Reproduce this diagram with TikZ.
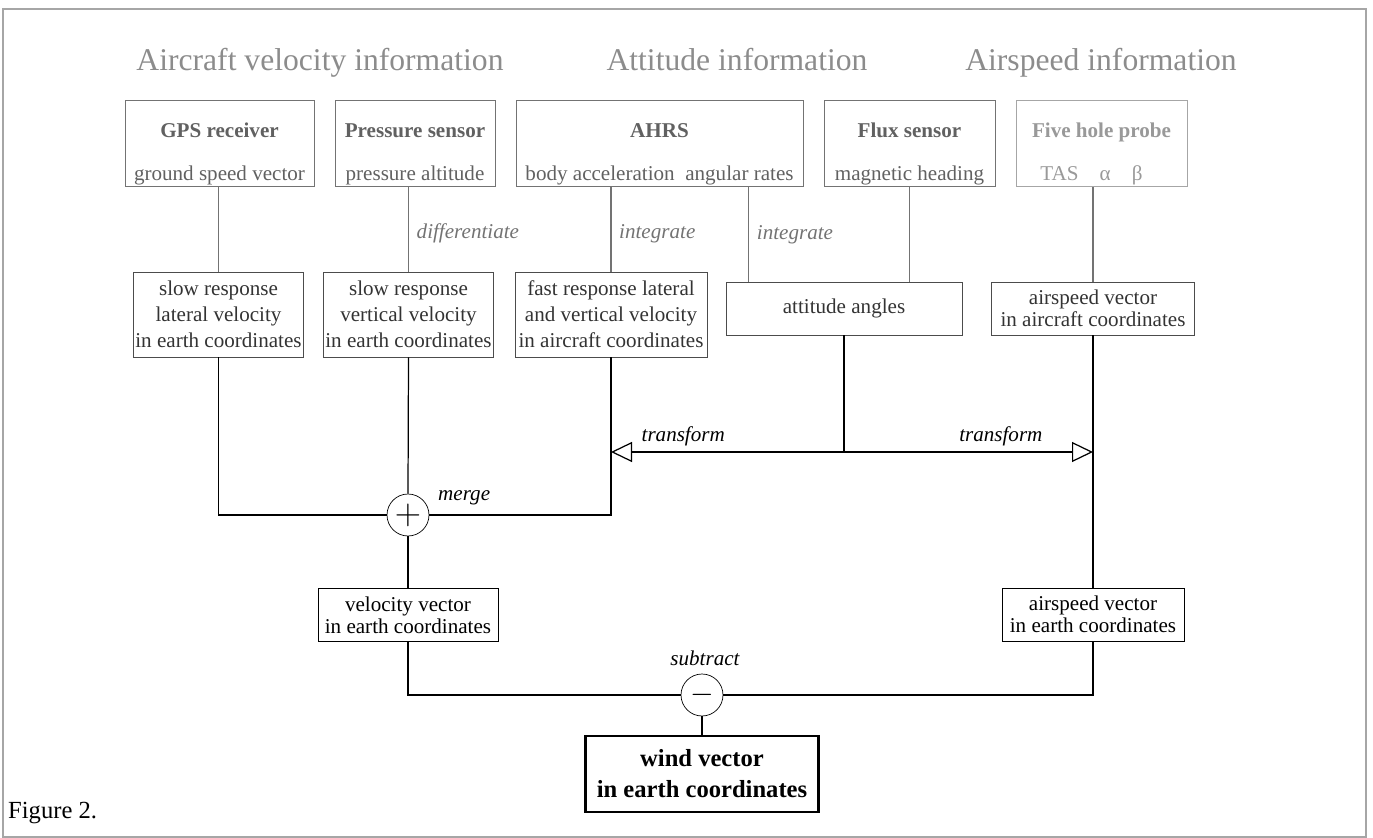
\documentclass[tikz,border=0pt]{standalone}
\usepackage{fontspec}
\setmainfont{Liberation Serif}
\usepackage{tikz}
\usetikzlibrary{arrows.meta,calc}

\tikzset{
  headline/.style={text=black!45,anchor=base,font=\fontsize{18}{22}\selectfont},
  sensorbox/.style={draw=black!55,text=black!62,align=center,inner sep=1pt,
    minimum height=1.66cm,font=\fontsize{12}{14.5}\selectfont},
  signalbox/.style={draw=black!70,text=black!80,align=center,inner sep=1pt,
    minimum height=1.7cm,font=\fontsize{12}{14.8}\selectfont},
  vectorbox/.style={draw,align=center,inner sep=1pt,minimum height=1.06cm,
    font=\fontsize{12}{12.5}\selectfont},
  opnode/.style={draw,circle,minimum size=0.84cm,inner sep=0pt},
  oplabel/.style={font=\itshape\fontsize{12}{14}\selectfont},
  steplabel/.style={oplabel,text=black!55,right=1pt},
  feed/.style={draw=black!55,line width=0.7pt},
  flow/.style={draw=black,line width=0.7pt},
  transarrow/.style={flow,-{Triangle[open,length=4.2mm,width=4mm]}},
}
\newcommand{\boxtitle}[1]{\rule{0pt}{20pt}\textbf{#1}}

\begin{document}
\begin{tikzpicture}[x=0.02cm,y=-0.02cm]
\useasboundingbox (0,0) rectangle (1373,838);
\draw[black!35,line width=0.8pt] (3,9) rectangle (1366,837);

\node[headline] (hvel) at (320,71) {Aircraft velocity information};
\node[headline] (hatt) at (737,71) {Attitude information};
\node[headline] (hair) at (1101,71) {Airspeed information};

\node[sensorbox,minimum width=3.78cm] (gps) at (219.5,143.5)
  {\boxtitle{GPS receiver}\\[10pt]ground speed vector};
\node[sensorbox,minimum width=3.2cm] (press) at (415,143.5)
  {\boxtitle{Pressure sensor}\\[10pt]pressure altitude};
\node[sensorbox,minimum width=5.74cm] (ahrs) at (659.5,143.5)
  {\boxtitle{AHRS}\\[10pt]body acceleration\ \ angular rates};
\node[sensorbox,minimum width=3.42cm] (flux) at (909.5,143.5)
  {\boxtitle{Flux sensor}\\[10pt]magnetic heading};
\node[sensorbox,minimum width=3.42cm,draw=black!35,text=black!40] (probe) at (1101.5,143.5)
  {\boxtitle{Five hole probe}\\[10pt]TAS\quad α\quad β\kern0.4cm};

\node[signalbox,minimum width=3.38cm] (slow1) at (218.5,314.5)
  {slow response\\lateral velocity\\in earth coordinates};
\node[signalbox,minimum width=3.38cm] (slow2) at (408.5,314.5)
  {slow response\\vertical velocity\\in earth coordinates};
\node[signalbox,minimum width=3.84cm] (fast) at (611,314.5)
  {fast response lateral\\and vertical velocity\\in aircraft coordinates};
\node[signalbox,minimum width=4.72cm,minimum height=1.06cm] (att) at (844,308.5)
  {attitude angles};
\node[signalbox,minimum width=4.06cm,minimum height=1.06cm,
  font=\fontsize{12}{12.5}\selectfont] (airac) at (1093,308.5)
  {airspeed vector\\in aircraft coordinates};

\node[opnode] (plus) at (408,515) {\fontsize{20}{20}\selectfont$+$};
\node[vectorbox,minimum width=3.6cm] (vel) at (408,615)
  {velocity vector\\in earth coordinates};
\node[vectorbox,minimum width=3.64cm] (airearth) at (1093,614.5)
  {airspeed vector\\in earth coordinates};
\node[opnode] (minus) at (702,695) {\fontsize{18}{18}\selectfont$-$};
\node[vectorbox,line width=1.2pt,minimum width=4.66cm,minimum height=1.52cm,
  font=\bfseries\fontsize{14}{17.6}\selectfont] (wind) at (702,774)
  {wind vector\\in earth coordinates};

\node[oplabel,anchor=west] (lmerge) at (432,498) {merge};
\node[oplabel] (lsub) at (705,658) {subtract};
\node[anchor=west,font=\rmfamily\fontsize{14}{16}\selectfont] (fig) at (2,813) {Figure 2.};

\coordinate (attin) at ([xshift=0.46cm]att.north west);
\coordinate (arrowrow) at (0,452);
\coordinate (split) at (att.south |- arrowrow);

\draw[feed] (slow1.north) -- (slow1.north |- gps.south);
\draw[feed] (slow2.north) -- node[steplabel,pos=0.45] {differentiate} (slow2.north |- press.south);
\draw[feed] (fast.north) -- node[steplabel,pos=0.45] {integrate} (fast.north |- ahrs.south);
\draw[feed] (attin) -- node[steplabel,pos=0.5] {integrate} (attin |- ahrs.south);
\draw[feed] (flux.south) -- (flux.south |- att.north);
\draw[feed] (airac.north) -- (airac.north |- probe.south);

\draw[flow] (slow1.south) |- (plus.west);
\draw[flow] (slow2.south) -- (plus.north);
\draw[flow] (fast.south) |- (plus.east);
\draw[flow] (att.south) -- (split);
\draw[transarrow] (split) -- node[oplabel,above,pos=0.69] {transform} (split -| fast.south);
\draw[transarrow] (split) -- node[oplabel,above,pos=0.63] {transform} (split -| airac.south);
\draw[flow] (airac.south) -- (airearth.north);
\draw[flow] (plus.south) -- (vel.north);
\draw[flow] (vel.south) |- (minus.west);
\draw[flow] (airearth.south) |- (minus.east);
\draw[flow] (minus.south) -- (wind.north);
\end{tikzpicture}
\end{document}
